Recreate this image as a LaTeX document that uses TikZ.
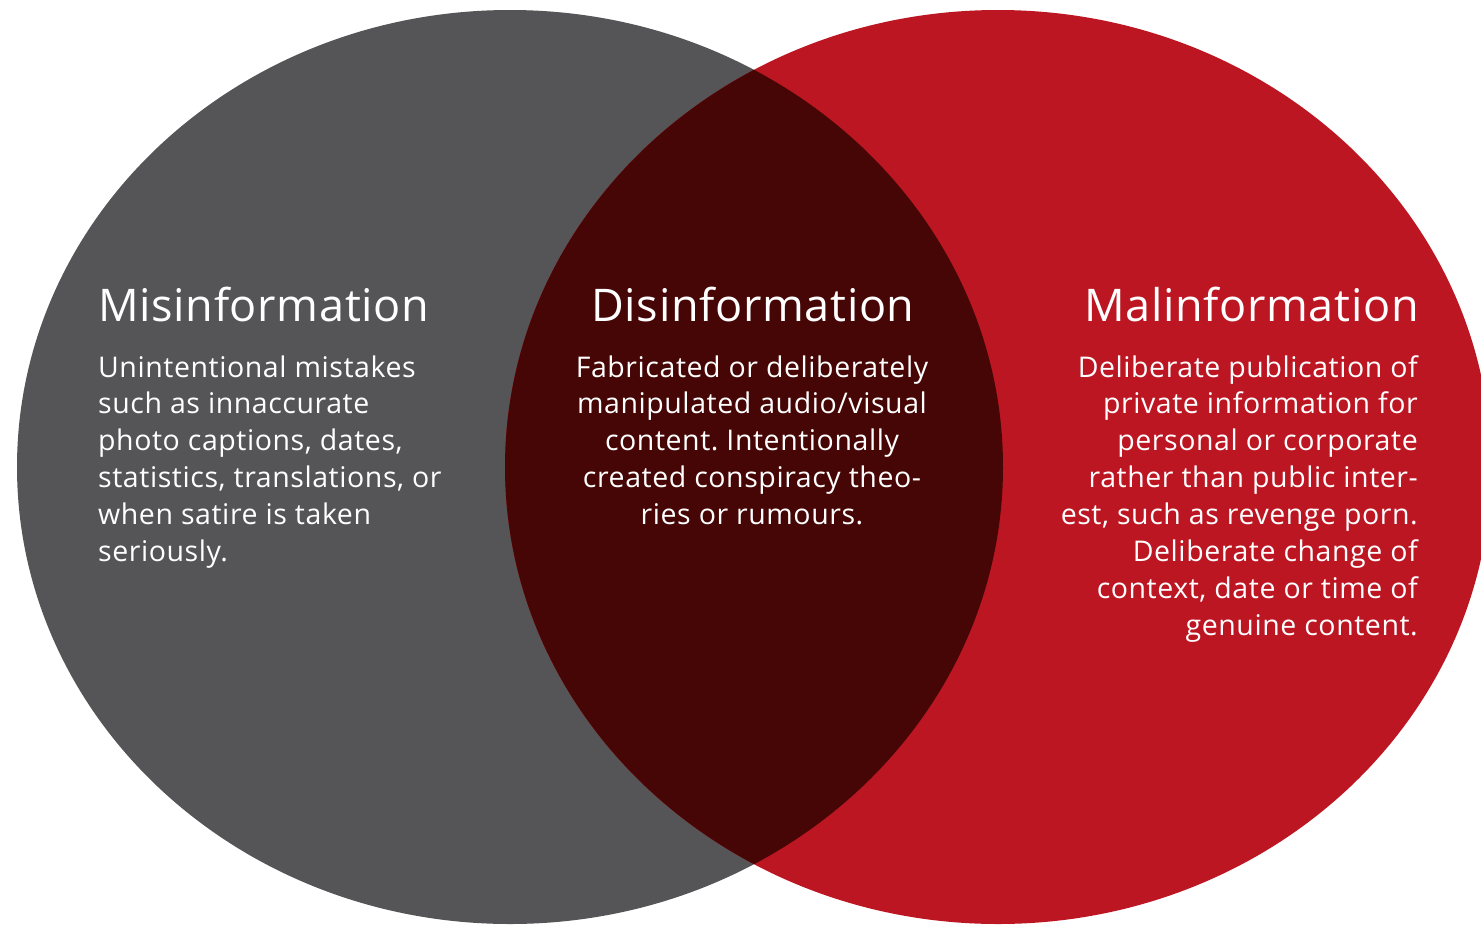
\documentclass[tikz,border=0pt]{standalone}
\usepackage{fontspec}
\setmainfont{Open Sans}
\newfontfamily\titlefont[LetterSpace=1.5]{Open Sans}
\newfontfamily\bodyfont[LetterSpace=2]{Open Sans}
\frenchspacing
\definecolor{misgray}{RGB}{85,84,86}
\definecolor{malred}{RGB}{189,22,35}
\definecolor{disdark}{RGB}{69,6,5}
\tikzset{
  titletext/.style={inner sep=0pt, text=white, font=\titlefont\fontsize{45}{54}\selectfont},
  bodytext/.style={inner sep=0pt, text=white, font=\bodyfont\frenchspacing\fontsize{28.5}{37}\selectfont},
}
\begin{document}
\begin{tikzpicture}[x=1pt,y=-1pt]
\useasboundingbox (0,0) rectangle (1481,924);
\fill[white] (0,0) rectangle (1481,924);
% ellipses
\fill[misgray] (510,467) ellipse [x radius=493pt, y radius=457pt];
\fill[malred] (998,467) ellipse [x radius=493pt, y radius=457pt];
\begin{scope}
  \clip (510,467) ellipse [x radius=493pt, y radius=457pt];
  \fill[disdark] (998,467) ellipse [x radius=493pt, y radius=457pt];
\end{scope}
% titles
\node[titletext, anchor=base west] (mistitle) at (98,321) {Misinformation};
\node[titletext, anchor=base] (distitle) at (753,321) {Disinformation};
\node[titletext, anchor=base east] (maltitle) at (1419,321) {Malinformation};
% left body
\foreach \t [count=\i from 0] in {Unintentional mistakes, such as innaccurate, {photo captions, dates,}, {statistics, translations, or}, when satire is taken, seriously.}{
  \node[bodytext, anchor=base west] (mis-\i) at (98,377+36.9*\i) {\t};
}
% centre body
\foreach \t [count=\i from 0] in {Fabricated or deliberately, manipulated audio/visual, content. Intentionally, created conspiracy theo-, ries or rumours.}{
  \node[bodytext, anchor=base] (dis-\i) at (752,377+36.9*\i) {\t};
}
% right body
\foreach \t [count=\i from 0] in {Deliberate publication of, private information for, personal or corporate, rather than public inter-, {est, such as revenge porn.}, Deliberate change of, {context, date or time of}, genuine content.}{
  \node[bodytext, anchor=base east] (mal-\i) at (1418,377+36.9*\i) {\t};
}
\end{tikzpicture}
\end{document}
